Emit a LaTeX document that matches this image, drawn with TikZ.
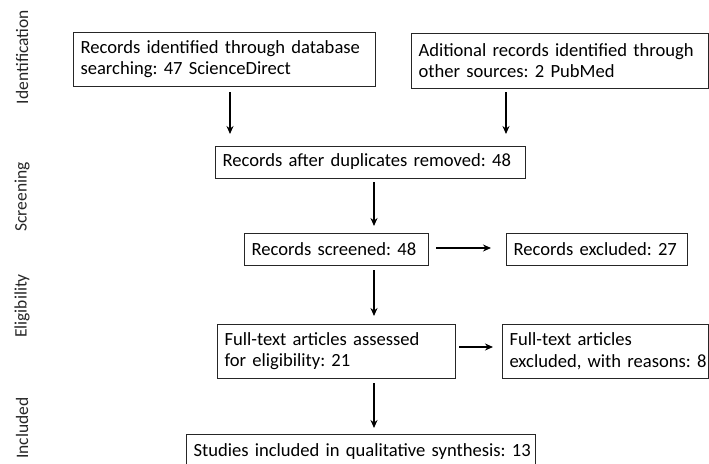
\documentclass[tikz,border=0pt]{standalone}
\usepackage{fontspec}
\setmainfont{Carlito}
\usetikzlibrary{arrows.meta}
\frenchspacing
\newcommand{\boxline}[1]{\mbox{#1}}
\begin{document}
\begin{tikzpicture}[x=1pt,y=-1pt,
  box/.style={draw=black!85, line width=0.9pt, inner xsep=7.5pt, inner ysep=0pt, align=left, anchor=center,
    font=\fontsize{18.6}{21.5}\selectfont},
  arr/.style={line width=1.3pt, -{Stealth[length=8pt,width=7pt]}},
  side/.style={rotate=90, font=\fontsize{17.5}{20}\selectfont, text=black!85}]
\useasboundingbox (0,0) rectangle (709,463);
\node[box, minimum width=302pt, minimum height=54pt, text width=287pt] (db) at (224,59) {\boxline{Records identified through database}\\\boxline{searching: 47 ScienceDirect}};
\node[box, minimum width=297pt, minimum height=55pt, text width=282pt] (oth) at (559.5,60.5) {\boxline{Aditional records identified through}\\\boxline{other sources: 2 PubMed}};
\node[box, minimum width=310pt, minimum height=32pt, text width=295pt] (dup) at (370,162) {\boxline{Records after duplicates removed: 48}};
\node[box, minimum width=184pt, minimum height=32pt, text width=169pt] (scr) at (336,249) {\boxline{Records screened: 48}};
\node[box, minimum width=181pt, minimum height=32pt, text width=166pt] (exc) at (596.5,249) {\boxline{Records excluded: 27}};
\node[box, minimum width=238pt, minimum height=54pt, text width=223pt] (ft) at (336,351) {\boxline{Full-text articles assessed}\\\boxline{for eligibility: 21}};
\node[box, minimum width=206pt, minimum height=54pt, text width=191pt] (ftx) at (605,351) {\boxline{Full-text articles}\\\boxline{excluded, with reasons: 8}};
\node[box, minimum width=349pt, minimum height=36pt, text width=334pt] (inc) at (360.5,452) {\boxline{Studies included in qualitative synthesis: 13}};
\coordinate (a1s) at (230,92); \coordinate (a1e) at (230,134);
\coordinate (a2s) at (506,92); \coordinate (a2e) at (506,134);
\coordinate (a3s) at (374,182); \coordinate (a3e) at (374,226);
\coordinate (a4s) at (436,248); \coordinate (a4e) at (491,248);
\coordinate (a5s) at (374,270); \coordinate (a5e) at (374,316);
\coordinate (a6s) at (459,347); \coordinate (a6e) at (493,347);
\coordinate (a7s) at (374,383); \coordinate (a7e) at (374,428);
\draw[arr] (a1s) -- (a1e);
\draw[arr] (a2s) -- (a2e);
\draw[arr] (a3s) -- (a3e);
\draw[arr] (a4s) -- (a4e);
\draw[arr] (a5s) -- (a5e);
\draw[arr] (a6s) -- (a6e);
\draw[arr] (a7s) -- (a7e);
\node[side] (s1) at (22,57) {Identification};
\node[side] (s2) at (22,197) {Screening};
\node[side] (s3) at (22,306) {Eligibility};
\node[side] (s4) at (22,428) {Included};
\end{tikzpicture}
\end{document}
